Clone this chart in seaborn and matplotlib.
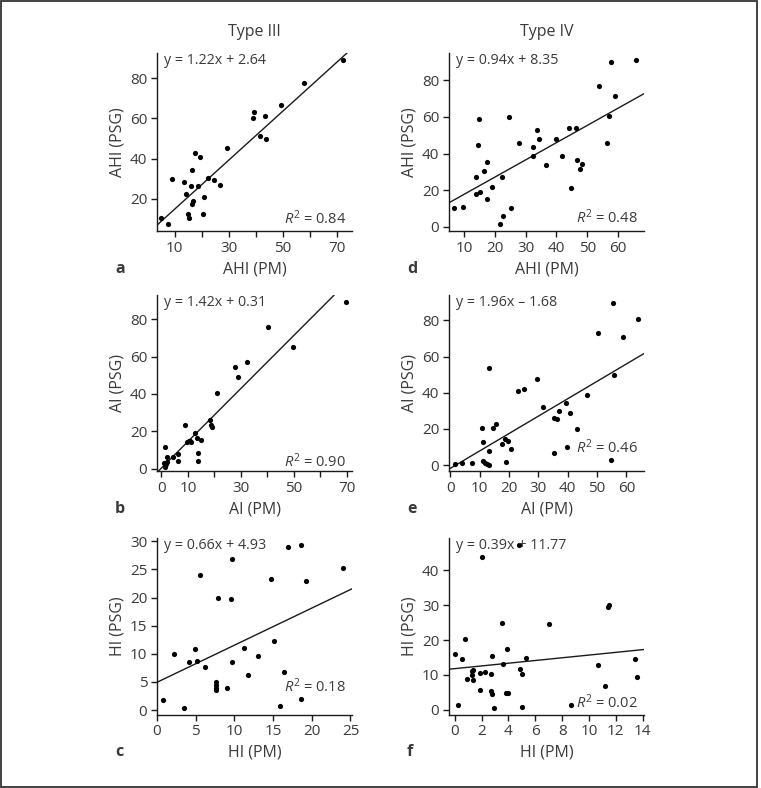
import matplotlib
matplotlib.use("Agg")
import matplotlib.pyplot as plt
import seaborn as sns
import pandas as pd
from matplotlib.patches import Rectangle

# ===== DATA =====
# a - Type III, AHI
a_pm = [4.9, 7.5, 9.0, 13.4, 14.3, 14.9, 15.2, 16.2, 16.4, 16.4, 16.7, 17.4, 18.8, 19.2,
        20.4, 20.8, 22.3, 24.5, 26.8, 29.4, 38.8, 39.4, 41.6, 43.4, 43.9, 49.3, 57.6, 72.0]
a_psg = [10.4, 7.7, 29.8, 28.6, 22.5, 12.4, 10.7, 26.5, 34.1, 17.5, 18.7, 42.7, 26.5, 40.6,
         12.5, 21.0, 30.4, 29.6, 26.8, 45.4, 60.0, 63.0, 51.2, 61.1, 49.7, 66.7, 77.5, 89.0]

# d - Type IV, AHI
d_pm = [6.7, 9.7, 13.8, 13.8, 14.3, 14.9, 15.2, 16.4, 17.4, 17.4, 19.1, 21.6, 22.1, 22.6,
        24.5, 25.3, 27.9, 32.5, 32.5, 33.8, 34.2, 36.6, 39.9, 41.7, 44.1, 44.7, 46.2, 46.7,
        47.5, 48.3, 54.0, 56.5, 57.1, 57.9, 59.1, 66.0]
d_psg = [10.4, 11.0, 27.4, 17.9, 44.7, 58.8, 18.8, 30.7, 35.6, 15.2, 21.6, 1.5, 27.4, 5.8,
         59.9, 10.2, 46.0, 38.5, 43.4, 53.0, 47.7, 33.6, 48.0, 38.5, 54.1, 21.2, 54.1, 36.3,
         31.6, 34.3, 76.9, 45.7, 60.5, 89.9, 71.6, 91.1]

# b - Type III, AI
b_pm = [0.8, 1.4, 1.6, 1.4, 1.9, 2.0, 4.3, 6.1, 6.1, 8.7, 9.6, 10.3, 10.6, 11.1, 12.5,
        13.4, 13.8, 13.8, 15.1, 18.5, 18.7, 19.2, 21.0, 27.7, 28.9, 32.4, 40.3, 49.7, 69.9]
b_psg = [3.2, 11.4, 2.5, 1.1, 6.1, 3.4, 6.4, 7.9, 3.9, 23.4, 14.5, 15.0, 15.0, 14.3, 18.8,
         16.6, 8.6, 3.8, 15.5, 26.1, 23.4, 22.1, 40.4, 54.6, 48.9, 57.0, 75.7, 65.0, 89.1]

# e - Type IV, AI
e_pm = [1.7, 4.0, 7.2, 10.6, 11.2, 11.2, 11.9, 12.6, 13.0, 13.1, 13.3, 14.6, 15.4, 17.5,
        18.6, 19.1, 19.7, 20.8, 23.1, 25.1, 29.5, 31.5, 35.2, 35.4, 36.3, 37.1, 39.5, 39.8,
        40.9, 43.0, 46.4, 50.3, 54.9, 55.3, 55.8, 59.0, 64.0]
e_psg = [0.7, 1.3, 1.1, 20.7, 12.9, 2.2, 1.3, 0.7, 0.2, 7.6, 53.6, 20.7, 22.5, 11.5,
         14.7, 2.0, 13.3, 9.1, 40.9, 42.2, 47.5, 32.2, 6.7, 26.0, 25.6, 30.0, 34.5, 10.0,
         28.9, 20.2, 38.5, 73.1, 2.9, 89.8, 49.6, 70.7, 80.7]

# c - Type III, HI
c_pm = [0.77, 2.26, 3.5, 4.19, 4.91, 5.21, 5.56, 6.24, 7.61, 7.61, 7.61, 7.61, 7.82, 9.1,
        9.53, 9.74, 9.74, 11.24, 11.71, 13.08, 14.7, 15.13, 15.94, 16.45, 16.88, 18.59,
        18.59, 19.23, 24.06]
c_psg = [1.7, 10.0, 0.3, 8.5, 10.9, 8.8, 24.0, 7.7, 5.0, 4.5, 4.0, 3.5, 19.9, 3.9,
         19.8, 26.9, 8.6, 11.1, 6.2, 9.6, 23.3, 12.2, 0.8, 6.7, 29.0, 29.4,
         2.0, 23.0, 25.2]

# f - Type IV, HI
f_pm = [0.0, 0.27, 0.52, 0.75, 0.92, 1.27, 1.32, 1.37, 1.37, 1.87, 1.87, 2.04, 2.24, 2.69,
        2.69, 2.79, 2.81, 2.94, 3.53, 3.63, 3.81, 3.96, 3.93, 4.78, 4.88, 5.02, 5.05, 5.32,
        7.06, 8.68, 10.7, 11.2, 11.4, 11.5, 13.4, 13.6]
f_psg = [16.1, 1.3, 14.5, 20.2, 8.8, 10.0, 11.1, 11.5, 8.4, 5.7, 10.5, 43.7, 10.9, 10.1,
         5.3, 15.3, 4.5, 0.5, 24.8, 13.1, 4.7, 4.7, 17.5, 47.3, 11.6, 0.7, 10.3, 14.8,
         24.5, 1.4, 12.9, 6.8, 29.5, 30.1, 14.4, 9.4]

# regression lines as drawn in the figure
# (panel e: the drawn line rises ~0.96 per unit, not the printed 1.96)
slopes = {"a": 1.22, "d": 0.94, "b": 1.42, "e": 0.96, "c": 0.66, "f": 0.39}
intercepts = {"a": 2.64, "d": 8.35, "b": 0.31, "e": -1.68, "c": 4.93, "f": 11.77}
eq_text = {"a": "y = 1.22x + 2.64", "d": "y = 0.94x + 8.35", "b": "y = 1.42x + 0.31",
           "e": "y = 1.96x \u2013 1.68", "c": "y = 0.66x + 4.93", "f": "y = 0.39x + 11.77"}
r2_text = {"a": "0.84", "d": "0.48", "b": "0.90", "e": "0.46", "c": "0.18", "f": "0.02"}

# ===== STYLE =====
sns.set_style("ticks")
plt.rcParams["font.family"] = ["Open Sans", "DejaVu Sans"]
plt.rcParams["mathtext.fontset"] = "custom"
plt.rcParams["mathtext.rm"] = "Open Sans"
plt.rcParams["mathtext.it"] = "Open Sans:italic"
TXT = "#3a3a3a"
LINE = "#1a1a1a"

W, H = 761, 788
fig = plt.figure(figsize=(W / 100, H / 100), dpi=100)

# axes boxes in pixels: (left, right) and (top, bottom)
cols = {"L": (157, 352), "R": (449, 644)}
rows = {1: (53, 231), 2: (295, 471), 3: (538, 714.5)}

panels = [
    dict(key="a", col="L", row=1, x=a_pm, y=a_psg, xlim=(3.5, 75.5), ylim=(4, 92.5),
         xticks=[10, 20, 30, 40, 50, 60, 70], xtl=["10", "", "30", "", "50", "", "70"],
         yticks=[20, 40, 60, 80], xlabel="AHI (PM)", ylabel="AHI (PSG)", r2y=0.07),
    dict(key="d", col="R", row=1, x=d_pm, y=d_psg, xlim=(5, 68.5), ylim=(-2.4, 95),
         xticks=[10, 20, 30, 40, 50, 60], xtl=None,
         yticks=[0, 20, 40, 60, 80], xlabel="AHI (PM)", ylabel="AHI (PSG)", r2y=0.072),
    dict(key="b", col="L", row=2, x=b_pm, y=b_psg, xlim=(-1.7, 72), ylim=(-1.3, 93),
         xticks=[0, 10, 20, 30, 40, 50, 60, 70], xtl=["0", "10", "", "30", "", "50", "", "70"],
         yticks=[0, 20, 40, 60, 80], xlabel="AI (PM)", ylabel="AI (PSG)", r2y=0.055),
    dict(key="e", col="R", row=2, x=e_pm, y=e_psg, xlim=(-0.5, 66), ylim=(-3.2, 94),
         xticks=[0, 10, 20, 30, 40, 50, 60], xtl=None,
         yticks=[0, 20, 40, 60, 80], xlabel="AI (PM)", ylabel="AI (PSG)", r2y=0.13),
    dict(key="c", col="L", row=3, x=c_pm, y=c_psg, xlim=(0, 25.2), ylim=(-0.8, 30.6),
         xticks=[0, 5, 10, 15, 20, 25], xtl=None,
         yticks=[0, 5, 10, 15, 20, 25, 30], xlabel="HI (PM)", ylabel="HI (PSG)", r2y=0.155),
    dict(key="f", col="R", row=3, x=f_pm, y=f_psg, xlim=(-0.42, 14.1), ylim=(-1.4, 49.3),
         xticks=[0, 2, 4, 6, 8, 10, 12, 14], xtl=None,
         yticks=[0, 10, 20, 30, 40], xlabel="HI (PM)", ylabel="HI (PSG)", r2y=0.067),
]

for p in panels:
    l, r = cols[p["col"]]
    t, b = rows[p["row"]]
    ax = fig.add_axes([l / W, 1 - b / H, (r - l) / W, (b - t) / H])
    df = pd.DataFrame({"pm": p["x"], "psg": p["y"]})
    sns.scatterplot(data=df, x="pm", y="psg", ax=ax, color="black", s=14,
                    linewidth=0, zorder=3)
    k = p["key"]
    ax.axline((0, intercepts[k]), slope=slopes[k], color=LINE, lw=1.0, zorder=2)
    ax.set_xlim(*p["xlim"])
    ax.set_ylim(*p["ylim"])
    ax.set_xticks(p["xticks"])
    if p["xtl"] is not None:
        ax.set_xticklabels(p["xtl"])
    ax.set_yticks(p["yticks"])
    sns.despine(ax=ax)
    for s in ("left", "bottom"):
        ax.spines[s].set_linewidth(1.0)
        ax.spines[s].set_color(LINE)
    ax.tick_params(direction="out", length=4, width=1, color=LINE,
                   labelsize=11, labelcolor=TXT, pad=3)
    ax.set_xlabel(p["xlabel"], fontsize=11.5, color=TXT, labelpad=4)
    ax.set_ylabel(p["ylabel"], fontsize=11.5, color=TXT, labelpad=3)
    ax.text(0.035, 0.96, eq_text[k], transform=ax.transAxes, ha="left", va="center",
            fontsize=10.3, color=TXT)
    ax.text(0.97, p["r2y"], r"$R^2$ = " + r2_text[k], transform=ax.transAxes,
            ha="right", va="center", fontsize=10.5, color=TXT)
    # panel letter
    fig.text((l - 42) / W, 1 - (b + 38) / H, k, fontsize=11.5, fontweight="bold",
             color=TXT, ha="left", va="center")

# column titles
fig.text((157 + 352) / 2 / W, 1 - 32 / H, "Type III", fontsize=11.5, color=TXT,
         ha="center", va="center")
fig.text((449 + 644) / 2 / W, 1 - 32 / H, "Type IV", fontsize=11.5, color=TXT,
         ha="center", va="center")

# outer frame
fig.add_artist(Rectangle((0.0015, 0.0017), 0.993, 0.9975, transform=fig.transFigure,
                         fill=False, edgecolor="#333333", lw=1.3))

fig.savefig("out.png", dpi=100)
plt.close(fig)
